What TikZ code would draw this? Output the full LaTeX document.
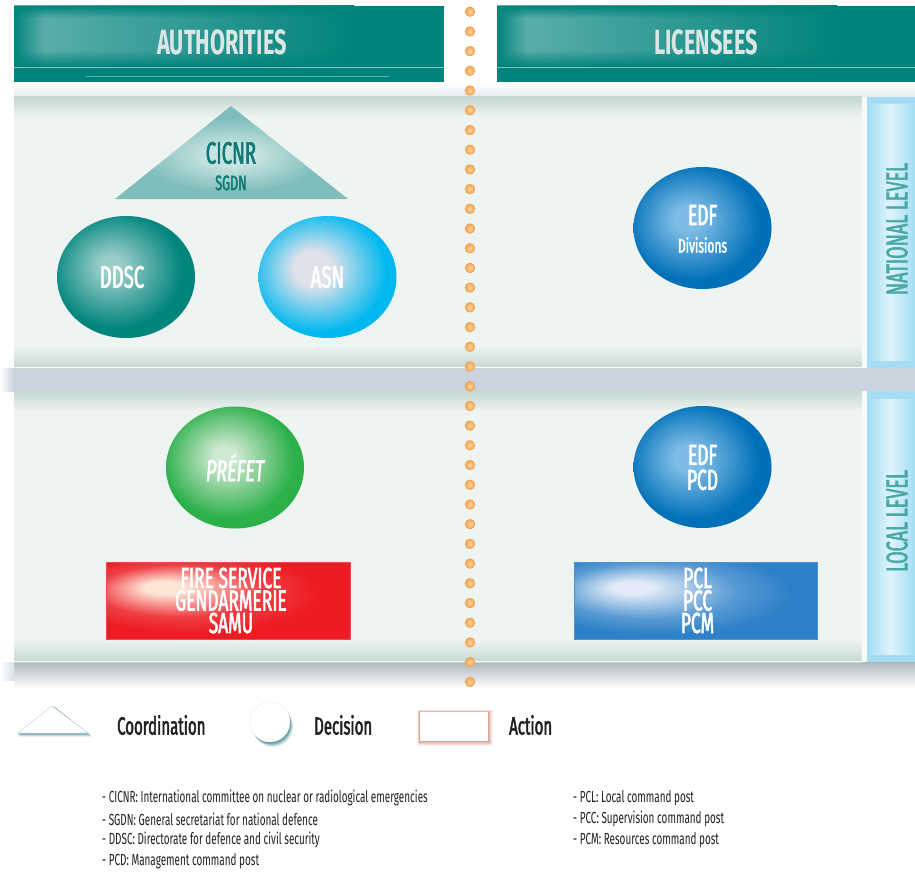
\documentclass[tikz,border=0pt]{standalone}
\usepackage{fontspec}
\setmainfont{Fira Sans}
\newfontfamily\cond{Fira Sans}[FakeStretch=0.62]
\newfontfamily\condm{Fira Sans}[FakeStretch=0.6, FakeBold=2]
\usetikzlibrary{shapes.geometric, fadings}

\definecolor{hdteal}{HTML}{00837C}
\definecolor{hdlight}{HTML}{62B1AD}
\definecolor{hdtext}{HTML}{DCE6E4}
\definecolor{panel}{HTML}{EEF4F1}
\definecolor{paneledge}{HTML}{C5D8D1}
\definecolor{gapgrey}{HTML}{C9D4DE}
\definecolor{stripblue}{HTML}{A4DDF4}
\definecolor{stripcore}{HTML}{E0F4FB}
\definecolor{leveltext}{HTML}{4AA9A6}
\definecolor{cicnrtext}{HTML}{0F7A75}
\definecolor{inktext}{HTML}{231F20}
\definecolor{dotedge}{HTML}{F39A3E}
\definecolor{dotcore}{HTML}{FDD6A8}
\definecolor{dotmid}{HTML}{F9A64E}

\definecolor{tealbase}{HTML}{00857C}
\definecolor{tealhl}{HTML}{9ACDC9}
\definecolor{cyanbase}{HTML}{00B8EF}
\definecolor{cyanhl}{HTML}{E0E2EA}
\definecolor{bluebase}{HTML}{0070B8}
\definecolor{bluehl}{HTML}{7DBCE6}
\definecolor{greenbase}{HTML}{2BB04A}
\definecolor{greenhl}{HTML}{CFE8D1}
\definecolor{redbase}{HTML}{ED1C24}
\definecolor{redhl}{HTML}{FEE6D6}
\definecolor{boxblue}{HTML}{2E81C8}
\definecolor{boxbluehl}{HTML}{E2EBF7}
\definecolor{trifill}{HTML}{7FBDBA}
\definecolor{trihl}{HTML}{C8E4E2}
\definecolor{legendteal}{HTML}{2E7F8A}
\definecolor{legendrust}{HTML}{C8705A}

% glossy fills: light spot up and to the left, body colour toward the rim
\pgfdeclareradialshading{tealball}{\pgfpoint{-6bp}{5bp}}{color(0bp)=(tealhl); color(4bp)=(tealhl); color(24bp)=(tealbase); color(60bp)=(tealbase)}
\pgfdeclareradialshading{cyanball}{\pgfpoint{-6bp}{4bp}}{color(0bp)=(cyanhl); color(7bp)=(cyanhl); color(25bp)=(cyanbase); color(60bp)=(cyanbase)}
\pgfdeclareradialshading{blueball}{\pgfpoint{-6bp}{4bp}}{color(0bp)=(bluehl); color(5bp)=(bluehl); color(24bp)=(bluebase); color(60bp)=(bluebase)}
\pgfdeclareradialshading{greenball}{\pgfpoint{-4bp}{5bp}}{color(0bp)=(greenhl); color(4bp)=(greenhl); color(24bp)=(greenbase); color(60bp)=(greenbase)}
\pgfdeclareradialshading{redslab}{\pgfpoint{-14bp}{9bp}}{color(0bp)=(redhl); color(4bp)=(redhl); color(17bp)=(redbase!85!white); color(26bp)=(redbase); color(60bp)=(redbase)}
\pgfdeclareradialshading{blueslab}{\pgfpoint{-14bp}{9bp}}{color(0bp)=(boxbluehl); color(4bp)=(boxbluehl); color(18bp)=(boxblue!80!white); color(27bp)=(boxblue); color(60bp)=(boxblue)}
\pgfdeclareradialshading{trishade}{\pgfpoint{0bp}{-2bp}}{color(0bp)=(trihl); color(5bp)=(trihl); color(20bp)=(trifill); color(60bp)=(trifill)}

% soft edges for the header glow
\tikzfading[name=opaquetop, top color=transparent!0, bottom color=transparent!100]
\tikzfading[name=opaquebottom, top color=transparent!100, bottom color=transparent!0]
\tikzfading[name=opaqueleft, left color=transparent!0, right color=transparent!100]

\tikzset{
  header/.style={font=\cond\bfseries\fontsize{35}{35}\selectfont, text=hdtext, inner sep=0},
  ballbox/.style={ellipse, minimum width=138pt, minimum height=122pt, inner sep=0},
  ballfont/.style={font=\condm\fontsize{31}{31}\selectfont, text=white, align=center, inner sep=0},
  slabfont/.style={font=\condm\fontsize{29}{22.5}\selectfont, text=white, align=center, inner sep=0},
  leveltag/.style={font=\condm\fontsize{30}{30}\selectfont, text=leveltext, rotate=90, inner sep=0},
  legendtext/.style={font=\condm\fontsize{25}{25}\selectfont, text=inktext, anchor=west, inner sep=0},
  footnote/.style={font=\cond\fontsize{16}{16}\selectfont, text=inktext, anchor=west, inner sep=0},
}

\begin{document}
\begin{tikzpicture}[x=1pt, y=-1pt]
\useasboundingbox (0,0) rectangle (915,872);
\fill[white] (0,0) rectangle (915,872);

% ---------- column headers ----------
\foreach \xa/\xb in {14/444, 497/915}{
  \fill[hdteal] (\xa,6) rectangle (\xb,82);
  \shade[left color=hdlight, right color=hdteal] (\xa,6) rectangle (\xa+340,67);
  \fill[hdteal, path fading=opaquetop] (\xa,6) rectangle (\xb,18);
  \fill[hdteal, path fading=opaquebottom] (\xa,50) rectangle (\xb,67);
  \fill[hdteal, path fading=opaqueleft] (\xa,6) rectangle (\xa+30,67);
  \draw[color=hdlight!80!white, line width=0.8pt] (\xa,67) -- (\xb,67);
}
\draw[color=hdlight, line width=0.5pt] (86,76) -- (389,76);
\node[header] (authorities) at (222,42) {AUTHORITIES};
\node[header] (licensees) at (706,42) {LICENSEES};

% soft grey shadows around the two level panels
\shade[top color=white, bottom color=gapgrey!50!white] (14,83) rectangle (915,97);
\fill[gapgrey] (14,368) rectangle (915,391);
\shade[top color=gapgrey!85!black!90!gapgrey, bottom color=white] (14,662) rectangle (915,688);
\shade[left color=white, right color=gapgrey] (0,368) rectangle (14,391);
\shade[left color=white, right color=gapgrey!70!white] (0,662) rectangle (14,680);

% ---------- level panels ----------
\foreach \ya/\yb in {97/368, 391/662}{
  \fill[panel] (14,\ya) rectangle (862,\yb);
  \shade[top color=paneledge, bottom color=panel] (14,\ya) rectangle (862,\ya+20);
  \shade[top color=panel, bottom color=paneledge] (14,\yb-22) rectangle (862,\yb);
  \draw[white!70!panel, line width=0.8pt] (14,\yb-0.4) -- (862,\yb-0.4);
  \fill[white!60!panel] (862,\ya) rectangle (867,\yb);
  \fill[stripblue] (867,\ya) rectangle (915,\yb);
  \shade[left color=stripblue, right color=stripcore] (867,\ya+8) rectangle (890,\yb-8);
  \shade[left color=stripcore, right color=stripblue] (890,\ya+8) rectangle (915,\yb-8);
}
\node[leveltag] (national) at (897,229) {NATIONAL LEVEL};
\node[leveltag] (local) at (897,521) {LOCAL LEVEL};

% ---------- dotted divider ----------
\foreach \i in {0,...,34}{
  \shade[inner color=dotcore, outer color=dotmid] (470,11.7+19.71*\i) circle (4.8);
  \draw[dotedge, line width=0.6pt] (470,11.7+19.71*\i) circle (4.8);
}

% ---------- national level ----------
\shade[shading=trishade] (115,199) -- (231,106) -- (348,199) -- cycle;
\node[font=\condm\fontsize{31}{31}\selectfont, text=cicnrtext, inner sep=0] (cicnr) at (231,153) {CICNR};
\node[font=\condm\fontsize{21}{21}\selectfont, text=cicnrtext, inner sep=0] (sgdn) at (231,183) {SGDN};

\node[ballbox, shading=tealball] (ddsc) at (126,277) {};
\node[ballfont] (ddsclbl) at (122,277) {DDSC};
\node[ballbox, shading=cyanball] (asn) at (327.5,277) {};
\node[ballfont] (asnlbl) at (asn.center) {ASN};

\node[ballbox, shading=blueball] (edfnat) at (702.5,228) {};
\node[font=\condm\fontsize{29}{29}\selectfont, text=white, inner sep=0] (edfnatlbl) at (702.5,215) {EDF};
\node[font=\condm\fontsize{20}{20}\selectfont, text=white, inner sep=0] (divisions) at (702.5,245) {Divisions};

% ---------- local level ----------
\node[ballbox, shading=greenball] (prefet) at (235,467.5) {};
\node[ballfont, font=\condm\itshape\fontsize{30}{30}\selectfont] (prefetlbl) at (prefet.center) {PRÉFET};

\node[rectangle, minimum width=244pt, minimum height=77pt, inner sep=0, shading=redslab, draw=redbase!80!white, line width=0.6pt] (services) at (228,600.5) {};
\node[slabfont] (serviceslbl) at (231,600.5) {FIRE SERVICE\\GENDARMERIE\\SAMU};

\node[ballbox, shading=blueball] (edfloc) at (702.5,467) {};
\node[slabfont, font=\condm\fontsize{29}{25}\selectfont] (pcdlbl) at (702.5,467.5) {EDF\\PCD};

\node[rectangle, minimum width=243pt, minimum height=77pt, inner sep=0, shading=blueslab, draw=boxblue!85!white, line width=0.6pt] (posts) at (695.5,600.5) {};
\node[slabfont] (postslbl) at (697.5,600.5) {PCL\\PCC\\PCM};

% ---------- legend ----------
% coordination: white triangle over a soft teal shadow
\foreach \k/\op in {5/0.10, 4/0.15, 3/0.2, 2/0.3, 1/0.35}{
  \fill[legendteal, opacity=\op] (18,733+\k*0.8) -- (53+\k*0.5,706+\k*0.3) -- (88+\k*0.9,733+\k*0.8) -- cycle;
}
\fill[white, draw=legendteal!30!white, line width=0.5pt] (18,733) -- (52,706) -- (88,733) -- cycle;
\node[legendtext] (coordination) at (117,725) {Coordination};

% decision: white disc over a teal crescent
\foreach \k/\op in {5/0.12, 4/0.18, 3/0.25, 2/0.35, 1/0.45}{
  \fill[legendteal, opacity=\op] (270+\k*0.6,722+\k) circle (20);
}
\draw[legendteal!25!white, line width=0.5pt] (270,722) circle (20);
\node[circle, fill=white, minimum size=40pt, inner sep=0] (decisionmark) at (270,722) {};
\node[legendtext] (decision) at (314,725) {Decision};

% action: white box in a rust glow
\foreach \k/\op in {5/0.08, 4/0.12, 3/0.16, 2/0.22, 1/0.3}{
  \fill[legendrust, opacity=\op] (420-\k*0.6,712-\k*0.4) rectangle (488+\k,741+\k);
}
\node[rectangle, fill=white, minimum width=68pt, minimum height=29pt, inner sep=0] (actionmark) at (454,726.5) {};
\node[legendtext] (action) at (509,725) {Action};

% ---------- abbreviations ----------
\node[footnote] (n1) at (102,798) {- CICNR: International committee on nuclear or radiological emergencies};
\node[footnote] (n2) at (102,819) {- SGDN: General secretariat for national defence};
\node[footnote] (n3) at (102,840) {- DDSC: Directorate for defence and civil security};
\node[footnote] (n4) at (102,861) {- PCD: Management command post};
\node[footnote] (n5) at (573,798) {- PCL: Local command post};
\node[footnote] (n6) at (573,819) {- PCC: Supervision command post};
\node[footnote] (n7) at (573,840) {- PCM: Resources command post};
\end{tikzpicture}
\end{document}
